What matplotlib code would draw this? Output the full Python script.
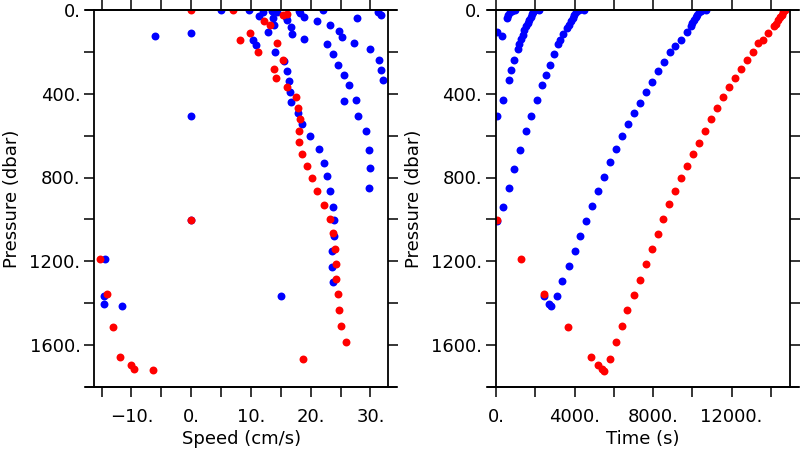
import matplotlib
matplotlib.use('Agg')
import matplotlib.pyplot as plt
from matplotlib.ticker import MultipleLocator, FuncFormatter

# Левая панель: скорость (см/с) и давление (дбар)
blue_speed = [-6.1, 0, 0, 0, -14.4, -14.6, -14.6, -11.6, 15.05,
              5, 9.6, 13.5, 18, 22,
              11.4, 12, 13.7, 13.9, 12.8, 14.3, 15.9, 16.1, 16.7, 16.9, 18.2, 18.9, 18.8,
              21, 23.3, 24.7, 25.3, 27.8, 27.2, 31.3, 31.8,
              10.3, 10.9, 14, 15.6, 16.1, 16.4, 16.6, 16.7, 17.8, 18.5, 19.9, 21.4, 22.2,
              22.7, 23.2, 23.7, 23.9, 23.9, 23.6, 23.6, 23.8,
              22.8, 23.8, 24.6, 25.5, 26.4, 25.5, 27.5, 27.9, 29.3, 29.8, 30, 29.8,
              29.9, 31.4, 31.8, 32.1]
blue_press_l = [123, 110, 508, 1004, 1189, 1364, 1402, 1415, 1367,
                2, 2, 3, 3, 2,
                30, 11, 38, 70, 105, 11, 33, 50, 81, 113, 14, 33, 138,
                54, 73, 100, 129, 37, 158, 12, 25,
                142, 169, 202, 245, 293, 341, 393, 441, 492, 547, 603, 662, 730,
                794, 866, 940, 1004, 1080, 1152, 1227, 1298,
                164, 212, 263, 310, 360, 436, 431, 505, 578, 667, 757, 848,
                186, 237, 285, 336]

red_speed = [0, 7, 15.4, 16.1, 12.1, 13.2, 9.9, 8.2, 14.3, 11.2, 15.3, 13.9, 14.2,
             16.0, 17.5, 17.8, 18.2, 18.1, 18.1, 18.5, 19.3, 20.2, 21.0, 22.3, 23.3,
             23.8, 24.1, 24.2, 24.3, 24.5, 24.8, 25.05, 25.9, 18.7, -6.4, -9.6, -10.1,
             -11.9, -13.1, -14.1, -15.2, 0]
red_press_l = [2, 2, 22, 18, 52, 70, 110, 142, 158, 202, 237, 280, 325,
               368, 415, 470, 520, 579, 632, 686, 743, 804, 863, 929, 996,
               1066, 1139, 1211, 1284, 1358, 1434, 1510, 1585, 1664, 1720, 1712, 1694,
               1657, 1515, 1358, 1188, 1004]

# Правая панель: время (с) и давление (дбар)
blue_time = [66, 290, 545, 626, 713, 814, 967,
             66, 341, 646, 779, 932, 1105, 1186, 1273, 1359, 1440, 1527, 1613, 1695,
             1766, 1832, 1900, 1985, 2204,
             66, 341, 662, 932, 1237, 1544, 1797, 2071, 2341, 2545, 2749, 2935, 3156,
             3275, 3394, 3598, 3700, 3802, 3904, 3970, 4072, 4209, 4479,
             2800, 2715, 2443, 3088, 3377, 3700, 4005, 4293, 4599, 4904, 5192, 5497,
             5803, 6108, 6413, 6701, 7024, 7330, 7618, 7923, 8229, 8534, 8840, 9127,
             9417, 9707, 9910, 9994, 10080, 10165, 10250, 10350, 10452, 10689]
blue_press_r = [107, 123, 38, 22, 11, 3, 2,
                508, 431, 336, 286, 237, 189, 162, 137, 118, 97, 78, 62, 46,
                33, 21, 10, 2, 2,
                1009, 940, 850, 759, 668, 579, 506, 431, 360, 312, 263, 212, 164,
                142, 116, 88, 72, 53, 37, 24, 11, 2, 2,
                1415, 1402, 1364, 1367, 1295, 1224, 1152, 1079, 1007, 937, 866, 797,
                727, 663, 603, 546, 493, 444, 393, 342, 293, 247, 202, 170,
                142, 104, 75, 62, 50, 35, 22, 11, 3, 2]

red_time = [14710, 14625, 14540, 14456, 14370, 14252, 14166, 13861, 13575, 13336,
            13066, 12761, 12456, 12150, 11845, 11555, 11249, 10944, 10638, 10333,
            10043, 9722, 9433, 9127, 8822, 8517, 8229, 7923, 7618, 7313, 7008, 6683,
            6413, 6108, 5803, 5497, 5379, 5209, 4820, 3650, 2443, 1257, 35]
red_press_r = [2, 11, 22, 35, 50, 65, 75, 110, 142, 158,
               202, 237, 282, 325, 368, 415, 470, 520, 579, 635,
               689, 745, 804, 864, 928, 996, 1068, 1139, 1212, 1287, 1359, 1434,
               1510, 1585, 1664, 1722, 1712, 1696, 1656, 1515, 1356, 1188, 1004]


def fmt_num(v, pos, step):
    # подписи вида "400." и "−10.", только на каждом втором делении
    if abs(v / step - round(v / step)) > 1e-6:
        return ''
    s = f"{int(round(v))}."
    return s.replace('-', '\u2212')


def style_axes(ax, xstep, xlabel_step):
    ax.set_ylim(1800, 0)
    ax.xaxis.set_major_locator(MultipleLocator(xstep))
    ax.yaxis.set_major_locator(MultipleLocator(200))
    ax.xaxis.set_major_formatter(FuncFormatter(lambda v, p: fmt_num(v, p, xlabel_step)))
    ax.yaxis.set_major_formatter(FuncFormatter(lambda v, p: fmt_num(v, p, 400)))
    ax.tick_params(direction='out', length=7, width=1.1, top=True, right=True,
                   labelsize=13, pad=3, colors='black')
    ax.tick_params(axis='x', pad=8)
    for sp in ax.spines.values():
        sp.set_linewidth(1.3)
    # верхняя и нижняя линии рамки выходят за края
    ext = 9 / 294
    for y in (0, 1):
        ax.plot([-ext, 1 + ext], [y, y], transform=ax.transAxes, clip_on=False,
                color='black', lw=1.3, solid_capstyle='butt')
    ax.set_ylabel('Pressure (dbar)', fontsize=13)
    ax.yaxis.set_label_coords(-0.25, 0.5)
    ax.xaxis.set_label_coords(0.5, -0.115)


fig = plt.figure(figsize=(8, 4.5), dpi=100)
ax1 = fig.add_axes([0.118, 0.14, 0.3675, 0.838])
ax2 = fig.add_axes([0.62, 0.14, 0.367, 0.838])

ms = 5.7
ax1.plot(blue_speed, blue_press_l, 'o', color='#0000ff', ms=ms, mew=0)
ax1.plot(red_speed, red_press_l, 'o', color='#ff0000', ms=ms, mew=0)
ax1.set_xlim(-16.2, 33.0)
style_axes(ax1, 5, 10)
ax1.set_xlabel('Speed (cm/s)', fontsize=13)

ax2.plot(blue_time, blue_press_r, 'o', color='#0000ff', ms=ms, mew=0)
ax2.plot(red_time, red_press_r, 'o', color='#ff0000', ms=ms, mew=0)
ax2.set_xlim(0, 14950)
style_axes(ax2, 2000, 4000)
ax2.set_xlabel('Time (s)', fontsize=13)

fig.savefig('out.png', dpi=100)
